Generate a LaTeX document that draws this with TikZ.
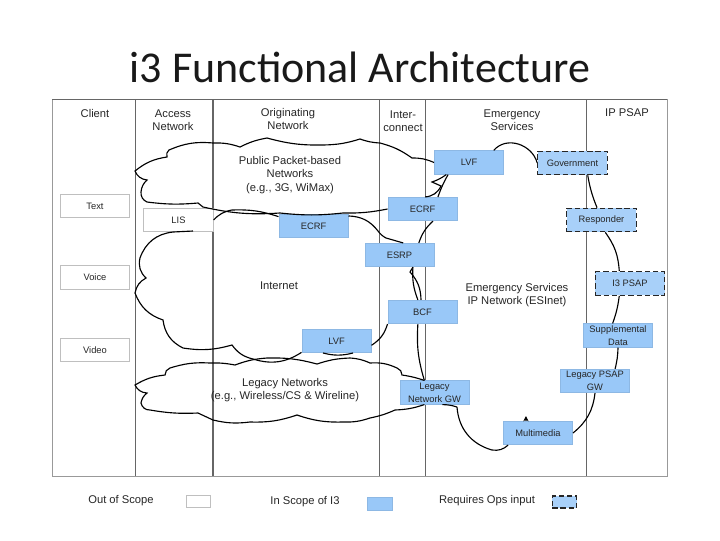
\documentclass[tikz,border=0pt]{standalone}
\usepackage{fontspec}
\setmainfont{Liberation Sans}
\newfontfamily\titlefont{Carlito}
\usetikzlibrary{arrows.meta}
\definecolor{scopeblue}{HTML}{99C8F8}
\definecolor{framegray}{HTML}{666666}
\tikzset{
  lbl/.style={align=center,font=\fontsize{8.4}{10.2}\selectfont,text=black!85,inner sep=0pt},
  box/.style={minimum width=52pt,minimum height=17.6pt,inner sep=0pt,align=center,
    font=\fontsize{7}{9.5}\selectfont,text=black!85},
  outbox/.style={box,draw=black!25,fill=white,line width=.6pt},
  inbox/.style={box,draw=scopeblue!92!black,fill=scopeblue,line width=.5pt},
  opsbox/.style={box,draw=black!85,fill=scopeblue!85!white,line width=.9pt,dash pattern=on 4pt off 2.2pt},
  wall/.style={draw=framegray,line width=.6pt},
  wire/.style={draw=black,line width=.85pt},
}
\begin{document}
\begin{tikzpicture}[x=0.75pt,y=-0.75pt]
  \useasboundingbox (0,0) rectangle (720,540);

  % Title
  \node[font=\titlefont\fontsize{33}{36}\selectfont,text=black!90,inner sep=0pt] (title) at (360,67) {i3 Functional Architecture};

  % Frame and columns
  \draw[draw=black!40,line width=.6pt] (52,99) rectangle (667,476);
  \draw[wall] (52,99) -- (667,99);
  \draw[wall] (135,99) -- (135,476);
  \draw[wall,line width=1pt] (213,99) -- (213,476);
  \draw[wall] (379,99) -- (379,476);
  \draw[wall] (425,99) -- (425,476);
  \draw[wall] (586,99) -- (586,476);

  % Column titles
  \node[lbl] (client) at (95,113) {Client};
  \node[lbl] (access) at (173,120) {Access\\Network};
  \node[lbl] (orig) at (288,119) {Originating\\Network};
  \node[lbl] (inter) at (403,121) {Inter-\\connect};
  \node[lbl] (emerg) at (512,120) {Emergency\\Services};
  \node[lbl] (psap) at (627,113) {IP PSAP};

  % Out of scope boxes
  \node[outbox] (text) at (95,206) {Text};
  \node[outbox] (voice) at (95,277.5) {Voice};
  \node[outbox] (video) at (95,350) {Video};
  \node[outbox] (lis) at (178.5,220) {LIS};

  % In scope boxes
  \node[inbox] (lvfa) at (469,162.5) {LVF};
  \node[inbox] (ecrfa) at (422.5,209) {ECRF};
  \node[inbox] (ecrfb) at (313.5,226) {ECRF};
  \node[inbox] (esrp) at (399.5,255) {ESRP};
  \node[inbox] (bcf) at (422.5,312) {BCF};
  \node[inbox] (lvfb) at (336.5,341) {LVF};
  \node[inbox] (supp) at (618,335.5) {Supplemental\\Data};
  \node[inbox] (lpsap) at (595,381) {Legacy PSAP\\GW};
  \node[inbox] (lgw) at (434.5,392.5) {Legacy\\Network GW};
  \node[inbox] (mm) at (538,433) {Multimedia};

  % Boxes that need ops input
  \node[opsbox] (gov) at (572.5,163) {Government};
  \node[opsbox] (resp) at (601.5,220) {Responder};
  \node[opsbox] (ipsap) at (630,283.5) {I3 PSAP};

  % Cloud texts
  \node[lbl] (public) at (290,175) {Public Packet-based\\Networks\\(e.g., 3G, WiMax)};
  \node[lbl] (internet) at (279,286) {Internet};
  \node[lbl] (esinet) at (517,295) {Emergency Services\\IP Network (ESInet)};
  \node[lbl] (legacy) at (285,390) {Legacy Networks\\(e.g., Wireless/CS \& Wireline)};

  % Public cloud
  \draw[wire] (lvfa.west) to[bend right=12] (412,158) to[bend right=10] (380,143)
    to[bend left=8] (360,139) to[bend left=8] (323,145) to[bend left=8] (267,138);
  \draw[wire] (ecrfa.west) to[bend left=6] (343,213) to[bend left=6] (280,213)
    to[bend left=8] (203,207) -- (198,203) to[bend left=6] (147,202)
    to[bend left=35] (141,192) to[bend left=20] (147,180)
    to[bend left=30] (135,171) to[bend left=15] (167,157)
    to[bend left=35] (169,150) to[bend left=14] (213,143)
    to[bend left=10] (240,147) to[bend left=8] (267,138);
  \draw[wire] (lvfa.-152) to[bend left=8] (432,182) -- (441,186)
    to[bend left=30] (ecrfa.78);

  % Internet cloud
  \draw[wire] (lis.east) to[bend left=18] (232,210) to[bend left=10] (ecrfb.165);
  \draw[wire] (ecrfb.16) to[bend left=25] (378,231) to[bend right=12] (386,238)
    -- (esrp.73);
  \draw[wire] (lvfa.-150) to[bend right=5] (ecrfa.38);
  \draw[wire] (ecrfa.-49) to[bend right=14] (esrp.32);
  \draw[wire] (esrp.-42) -- (410,272) to[bend left=20] (bcf.97);
  \draw[wire] (esrp.-42) to[bend right=12] (bcf.111);
  \draw[wire] (bcf.-161) to[bend left=20] (lvfb.-7);
  \draw[wire] (323,353) to[bend right=14] (353,353);
  \draw[wire] (lvfb.-162) to[bend left=25] (253,359) to[bend left=20] (232,345)
    to[bend left=12] (183,348) to[bend left=28] (163,320)
    to[bend left=25] (135,293) to[bend left=25] (146,278)
    to[bend left=30] (140,258) to[bend left=32] (173,232) -- (193,231);

  % Legacy cloud
  \draw[wire] (lgw.130) to[bend right=5] (402,375) to[bend right=35] (397,368)
    to[bend right=14] (370,363) to[bend right=10] (350,358) to[bend right=8] (317,364)
    to[bend right=8] (267,358) to[bend right=8] (235,365);
  \draw[wire] (lgw.-130) to[bend left=8] (395,410) to[bend left=6] (370,418)
    to[bend left=10] (343,422) to[bend left=10] (297,415) to[bend left=10] (250,422)
    to[bend left=10] (213,420) -- (198,413) to[bend left=6] (150,410)
    to[bend left=40] (141,403) to[bend left=20] (147,393)
    to[bend left=30] (135,385) to[bend left=12] (165,375)
    to[bend left=35] (170,368) to[bend left=10] (210,363) to[bend left=6] (235,365);

  % ESInet ring
  \draw[wire] (lvfa.26) to[out=50,in=105,looseness=1.1] (gov.west);
  \draw[wire] (gov.-39) to[bend right=6] (resp.110);
  \draw[wire] (resp.-73) to[bend left=16] (ipsap.131);
  \draw[wire] (ipsap.-131) to[bend left=6] (supp.114);
  \draw[wire] (supp.south) to[bend left=6] (lpsap.31);
  \draw[wire] (lpsap.south) to[bend left=22] (mm.east);
  \draw[wire] (mm.-158) to[bend left=25] (492,450) to[bend left=35] (457,407);
  \draw[wire] (457,407) to[bend right=8] (lgw.-57);
  \draw[wire] (bcf.-111) to[bend right=10] (lgw.130);

  % Stub above multimedia
  \coordinate (mmtip) at (526,416);
  \draw[wire,-{Stealth[length=4pt,width=4pt]}] (mm.135) -- (mmtip);

  % Legend
  \node[lbl] (outtxt) at (121,501) {Out of Scope};
  \node[lbl] (intxt) at (305,502) {In Scope of I3};
  \node[lbl] (opstxt) at (487,501) {Requires Ops input};
  \node[outbox,minimum width=18.5pt,minimum height=9.5pt] (outkey) at (198.5,501.5) {};
  \node[inbox,minimum width=18.5pt,minimum height=9.5pt] (inkey) at (379.5,503.5) {};
  \node[opsbox,minimum width=18.5pt,minimum height=9pt] (opskey) at (564.5,502) {};
\end{tikzpicture}
\end{document}
